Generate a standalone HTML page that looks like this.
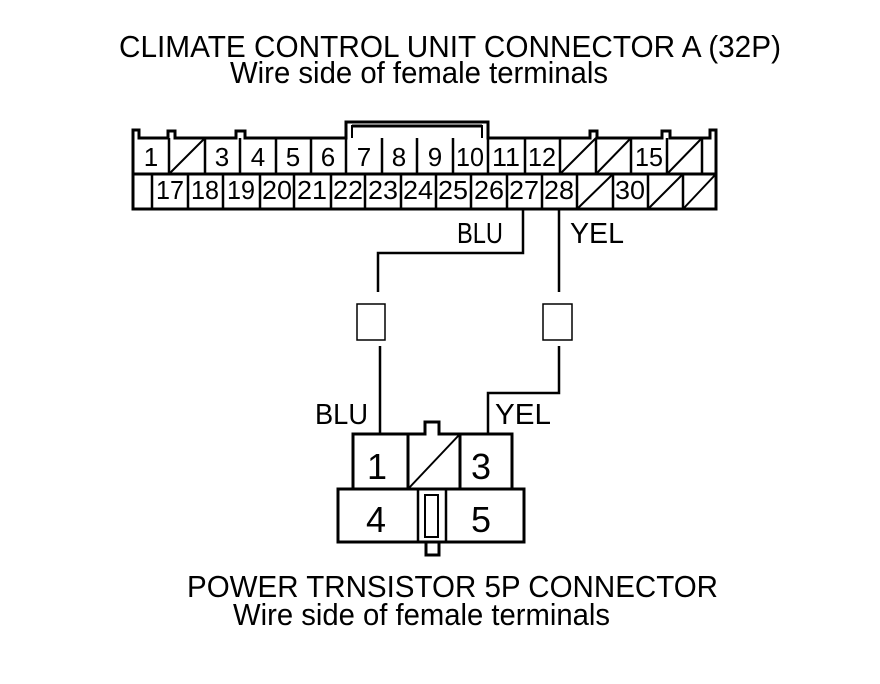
<!DOCTYPE html>
<html><head><meta charset="utf-8"><style>
html,body{margin:0;padding:0;background:#fff;}
svg{display:block;}
text{font-family:"Liberation Sans",Arial,sans-serif;fill:#000;}
</style></head><body>
<svg width="880" height="684" viewBox="0 0 880 684" xmlns="http://www.w3.org/2000/svg">
<g font-size="31">
<text x="119" y="57" textLength="662" lengthAdjust="spacingAndGlyphs">CLIMATE CONTROL UNIT CONNECTOR A (32P)</text>
<text x="230" y="83" textLength="378" lengthAdjust="spacingAndGlyphs">Wire side of female terminals</text>
<text x="187" y="597" textLength="531" lengthAdjust="spacingAndGlyphs">POWER TRNSISTOR 5P CONNECTOR</text>
<text x="233" y="625" textLength="377" lengthAdjust="spacingAndGlyphs">Wire side of female terminals</text>
</g>
<g fill="none" stroke="#000" stroke-width="3">
<path d="M133,209 L133,130 L139,130 L139,138 L168,138 L168,131 L175,131 L175,138 L236,138 L236,131 L245,131 L245,138 L346,138 L346,122 L488,122 L488,138 L590,138 L590,131 L597,131 L597,138 L662,138 L662,131 L670,131 L670,138 L710,138 L710,130 L716,130 L716,209 Z"/>
<path d="M352,138 L352,125 M482,138 L482,125" stroke-width="2"/>
<line x1="352" y1="126" x2="482" y2="126"/>
<line x1="133" y1="174" x2="716" y2="174"/>
<path d="M169,138V174 M205,138V174 M240,138V174 M276,138V174 M311,138V174 M346,138V174 M382,138V174 M417,138V174 M453,138V174 M488,138V174 M525,138V174 M560,138V174 M596,138V174 M631,138V174 M667,138V174 M702,138V174" stroke-width="2.5"/>
<path d="M152,174V209 M188,174V209 M223,174V209 M260,174V209 M294,174V209 M331,174V209 M365,174V209 M401,174V209 M436,174V209 M471,174V209 M507,174V209 M542,174V209 M577,174V209 M613,174V209 M648,174V209 M683,174V209" stroke-width="2.5"/>
<path d="M169,174L205,138 M560,174L596,138 M596,174L631,138 M667,174L702,138 M577,209L613,174 M648,209L683,174 M683,209L716,174" stroke-width="2"/>
<g stroke-width="2.5">
<path d="M523,209V253H378V292"/>
<path d="M559,209V292"/>
<path d="M380,346V434"/>
<path d="M559,346V393H488V434"/>
</g>
<rect x="357" y="304" width="28" height="36" stroke-width="1.5"/>
<rect x="543" y="304" width="29" height="36" stroke-width="1.5"/>
<path d="M353,489V434H425V422H439V434H512V489"/>
<line x1="408" y1="434" x2="408" y2="489"/>
<line x1="460" y1="434" x2="460" y2="489"/>
<line x1="408" y1="489" x2="460" y2="434" stroke-width="2"/>
<rect x="338" y="489" width="186" height="53"/>
<path d="M418,489V542 M446,489V542" stroke-width="2.5"/>
<rect x="425" y="495" width="13" height="42" stroke-width="2"/>
<path d="M426,542V555H439V542"/>
</g>
<g font-size="26" text-anchor="middle">
<text x="151" y="166">1</text><text x="222" y="166">3</text><text x="258" y="166">4</text><text x="293" y="166">5</text><text x="328" y="166">6</text><text x="364" y="166">7</text><text x="399" y="166">8</text><text x="435" y="166">9</text><text x="470" y="166" textLength="28" lengthAdjust="spacingAndGlyphs">10</text><text x="506" y="166" textLength="28" lengthAdjust="spacingAndGlyphs">11</text><text x="542" y="166" textLength="28" lengthAdjust="spacingAndGlyphs">12</text><text x="649" y="166" textLength="28" lengthAdjust="spacingAndGlyphs">15</text>
</g>
<g font-size="26" text-anchor="middle">
<text x="170" y="199" textLength="28" lengthAdjust="spacingAndGlyphs">17</text><text x="205" y="199" textLength="28" lengthAdjust="spacingAndGlyphs">18</text><text x="241" y="199" textLength="28" lengthAdjust="spacingAndGlyphs">19</text><text x="277" y="199" textLength="30" lengthAdjust="spacingAndGlyphs">20</text><text x="312" y="199" textLength="30" lengthAdjust="spacingAndGlyphs">21</text><text x="348" y="199" textLength="30" lengthAdjust="spacingAndGlyphs">22</text><text x="383" y="199" textLength="30" lengthAdjust="spacingAndGlyphs">23</text><text x="418" y="199" textLength="30" lengthAdjust="spacingAndGlyphs">24</text><text x="453" y="199" textLength="30" lengthAdjust="spacingAndGlyphs">25</text><text x="489" y="199" textLength="30" lengthAdjust="spacingAndGlyphs">26</text><text x="524" y="199" textLength="30" lengthAdjust="spacingAndGlyphs">27</text><text x="559" y="199" textLength="30" lengthAdjust="spacingAndGlyphs">28</text><text x="630" y="199" textLength="30" lengthAdjust="spacingAndGlyphs">30</text>
</g>
<g font-size="29">
<text x="457" y="243" textLength="46" lengthAdjust="spacingAndGlyphs">BLU</text>
<text x="570" y="243" textLength="54" lengthAdjust="spacingAndGlyphs">YEL</text>
<text x="315" y="424" textLength="53" lengthAdjust="spacingAndGlyphs">BLU</text>
<text x="495" y="424" textLength="56" lengthAdjust="spacingAndGlyphs">YEL</text>
</g>
<g font-size="36" text-anchor="middle">
<text x="377" y="479">1</text><text x="481" y="479">3</text>
<text x="376" y="532">4</text><text x="481" y="532">5</text>
</g>
</svg>
</body></html>
